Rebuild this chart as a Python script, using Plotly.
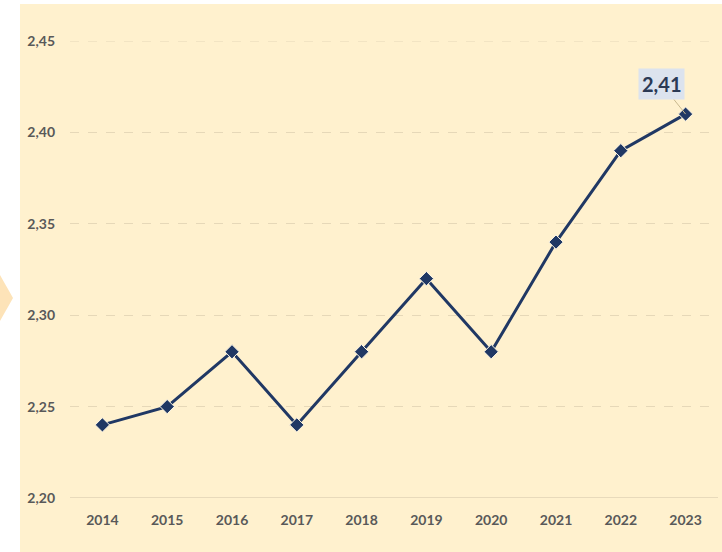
import plotly.graph_objects as go

years = [2014, 2015, 2016, 2017, 2018, 2019, 2020, 2021, 2022, 2023]
values = [2.24, 2.25, 2.28, 2.24, 2.28, 2.32, 2.28, 2.34, 2.39, 2.41]
y_ticks = [2.20, 2.25, 2.30, 2.35, 2.40, 2.45]
label_text = "2,41"

W, H = 722, 552
ML, MR, MT, MB = 70, 4, 41, 54
cream = "#FFF1CE"
navy = "#203864"

fig = go.Figure()
fig.add_trace(go.Scatter(
    x=years, y=values, mode="lines+markers",
    line=dict(color=navy, width=3),
    marker=dict(symbol="diamond", size=11, color=navy, line=dict(color="#FFF8E6", width=1)),
    hoverinfo="skip", showlegend=False, cliponaxis=False,
))

def px(xp):
    return (xp - ML) / (W - ML - MR)
def py(yp):
    return (H - MB - yp) / (H - MT - MB)

fig.add_shape(type="rect", xref="paper", yref="paper",
              x0=px(20), x1=px(W), y0=py(H), y1=py(4),
              fillcolor=cream, line=dict(width=0), layer="below")
fig.add_shape(type="path", xref="paper", yref="paper",
              path=f"M {px(0)},{py(275)} L {px(13)},{py(298)} L {px(0)},{py(321)} Z",
              fillcolor="#FDE3B8", line=dict(width=0), layer="below")

fig.add_annotation(x=years[-1], y=values[-1], text=f"<b>{label_text}</b>",
                   showarrow=True, arrowhead=0, arrowwidth=1, arrowcolor="#C9B98F",
                   ax=-24, ay=-30, font=dict(family="Lato", size=20, color="#2B3A55"),
                   bgcolor="#DCE3EE", borderpad=3)

fig.update_layout(
    width=W, height=H,
    margin=dict(l=ML, r=MR, t=MT, b=MB),
    paper_bgcolor="white", plot_bgcolor=cream,
    separators=", ",
    xaxis=dict(range=[2013.5, 2023.5], tickmode="array", tickvals=years,
               ticktext=[str(y) for y in years],
               showgrid=False, showline=False, zeroline=False,
               tickfont=dict(family="Lato", size=14, color="#595959", weight="bold"),
               ticks="", ticklabelstandoff=12),
    yaxis=dict(range=[2.2, 2.45], tickvals=y_ticks, tickformat=".2f",
               showgrid=True, gridcolor="#E6D8B8", griddash="dash", gridwidth=1,
               zeroline=False, showline=False,
               tickfont=dict(family="Lato", size=14, color="#595959", weight="bold"),
               ticks="", ticklabelstandoff=14),
)
fig.add_shape(type="line", xref="paper", yref="y", x0=0, x1=1, y0=2.2, y1=2.2,
              line=dict(color="#E0D2B4", width=1.5), layer="below")
fig.add_shape(type="line", xref="paper", yref="y", x0=0, x1=1, y0=2.45, y1=2.45,
              line=dict(color="#E6D8B8", width=1, dash="dash"), layer="below")

fig.write_html("out.html", config={"displayModeBar": False},
               post_script="document.body.style.margin='0';")
